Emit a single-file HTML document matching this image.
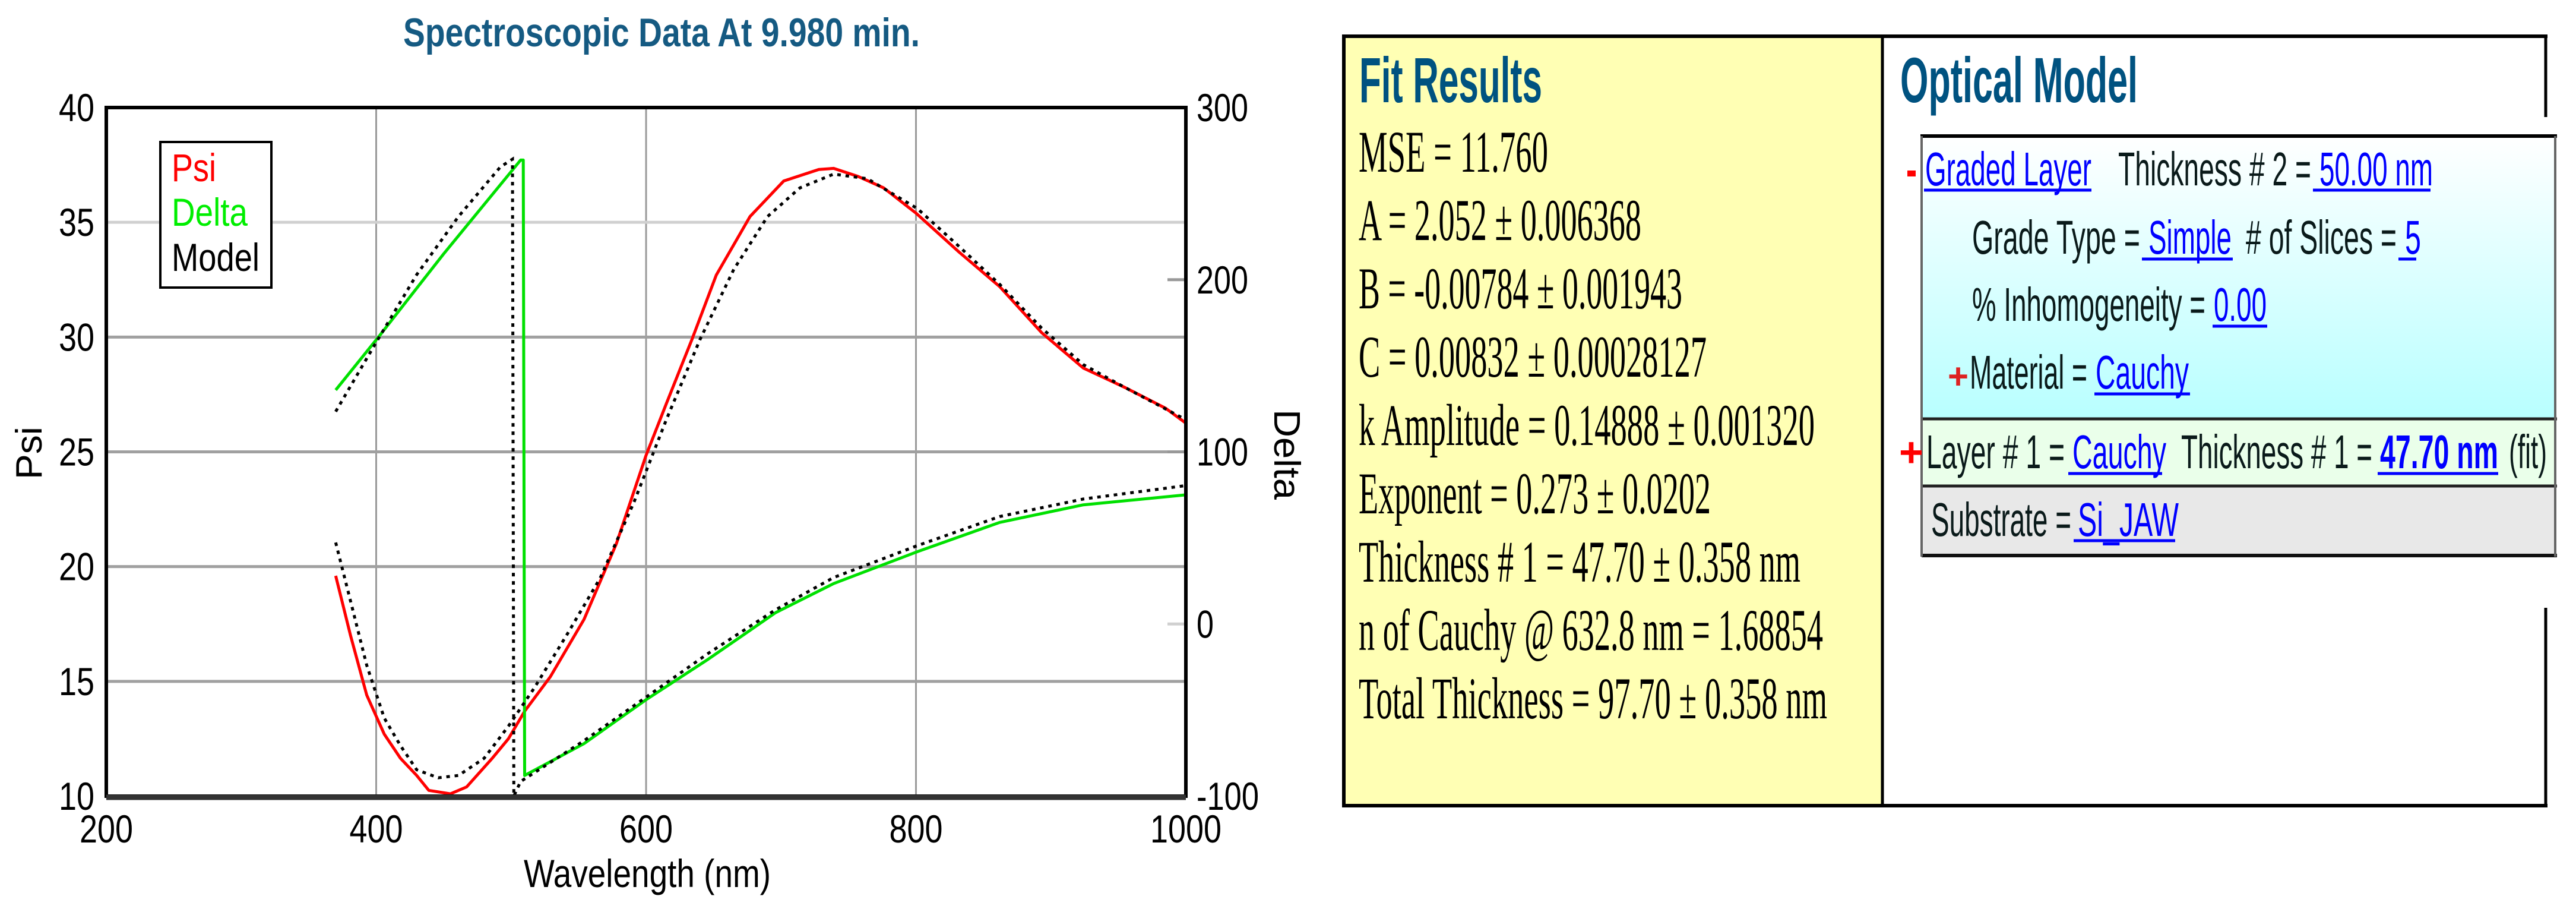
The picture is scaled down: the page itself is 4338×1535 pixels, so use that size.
<!DOCTYPE html>
<html><head><meta charset="utf-8"><style>
html,body{margin:0;padding:0;background:#fff;}
svg{display:block;}
.ax{font-family:"Liberation Sans",Arial,sans-serif;fill:#000;}
.tm{font-family:"Liberation Serif","Times New Roman",serif;font-size:100px;fill:#000;}
.om{font-family:"Liberation Sans",Arial,sans-serif;font-size:80px;fill:#0a1a1a;}
.lk{font-family:"Liberation Sans",Arial,sans-serif;font-size:80px;fill:#0000ff;}
</style></head><body>
<svg id="root" width="4338" height="1535" viewBox="0 0 4338 1535" xmlns="http://www.w3.org/2000/svg">
<defs>
<linearGradient id="cyan" x1="0" y1="0" x2="0" y2="1"><stop offset="0" stop-color="#ffffff"/><stop offset="1" stop-color="#b8ffff"/></linearGradient>
</defs>
<rect width="4338" height="1535" fill="#fff"/>
<g id="chart">
<text x="679" y="78" textLength="870" lengthAdjust="spacingAndGlyphs" class="ax" style="font-size:68px;font-weight:bold;fill:#155a82">Spectroscopic Data At 9.980 min.</text>
<g id="grid"></g>
<g id="series"></g>
<rect x="179" y="181" width="1818" height="1159" fill="none" stroke="#000" stroke-width="6"/>
<line x1="179" y1="1342" x2="1997" y2="1342" stroke="#333" stroke-width="9"/>
<g id="ticks"></g>
<g>
<rect x="270" y="239" width="187" height="245" fill="#fff" stroke="#000" stroke-width="4"/>
<text x="289" y="305" class="ax" style="font-size:66px;fill:#ff0000" textLength="75" lengthAdjust="spacingAndGlyphs">Psi</text>
<text x="289" y="380" class="ax" style="font-size:66px;fill:#00ee00" textLength="128" lengthAdjust="spacingAndGlyphs">Delta</text>
<text x="289" y="456" class="ax" style="font-size:66px" textLength="148" lengthAdjust="spacingAndGlyphs">Model</text>
</g>
<text x="882" y="1493" class="ax" style="font-size:66px" textLength="416" lengthAdjust="spacingAndGlyphs">Wavelength (nm)</text>
<text transform="translate(70,807) rotate(-90)" class="ax" style="font-size:62px" textLength="89" lengthAdjust="spacingAndGlyphs">Psi</text>
<text transform="translate(2146,689) rotate(90)" class="ax" style="font-size:62px" textLength="152" lengthAdjust="spacingAndGlyphs">Delta</text>
</g>

<g>
<rect x="2263" y="64" width="905" height="1291" fill="#ffffb4"/>
<line x1="2263" y1="61" x2="4290" y2="61" stroke="#000" stroke-width="6"/>
<line x1="2263" y1="1356" x2="4290" y2="1356" stroke="#000" stroke-width="6"/>
<line x1="2263" y1="58" x2="2263" y2="1359" stroke="#000" stroke-width="6"/>
<line x1="3170" y1="58" x2="3170" y2="1359" stroke="#000" stroke-width="5"/>
<line x1="4287" y1="58" x2="4287" y2="197" stroke="#000" stroke-width="5"/>
<line x1="4287" y1="1023" x2="4287" y2="1359" stroke="#000" stroke-width="5"/>
<text x="2289" y="172" class="ax" style="font-size:108px;font-weight:bold;fill:#005280" textLength="308" lengthAdjust="spacingAndGlyphs">Fit Results</text>
<text class="tm" x="2288" y="289" textLength="319" lengthAdjust="spacingAndGlyphs">MSE = 11.760</text>
<text class="tm" x="2288" y="404" textLength="476" lengthAdjust="spacingAndGlyphs">A = 2.052 ± 0.006368</text>
<text class="tm" x="2288" y="519" textLength="545" lengthAdjust="spacingAndGlyphs">B = -0.00784 ± 0.001943</text>
<text class="tm" x="2288" y="634" textLength="586" lengthAdjust="spacingAndGlyphs">C = 0.00832 ± 0.00028127</text>
<text class="tm" x="2288" y="749" textLength="768" lengthAdjust="spacingAndGlyphs">k Amplitude = 0.14888 ± 0.001320</text>
<text class="tm" x="2288" y="864" textLength="593" lengthAdjust="spacingAndGlyphs">Exponent = 0.273 ± 0.0202</text>
<text class="tm" x="2288" y="979" textLength="744" lengthAdjust="spacingAndGlyphs">Thickness # 1 = 47.70 ± 0.358 nm</text>
<text class="tm" x="2288" y="1094" textLength="782" lengthAdjust="spacingAndGlyphs">n of Cauchy @ 632.8 nm = 1.68854</text>
<text class="tm" x="2288" y="1209" textLength="789" lengthAdjust="spacingAndGlyphs">Total Thickness = 97.70 ± 0.358 nm</text>
</g>

<g>
<text x="3200" y="172" class="ax" style="font-size:108px;font-weight:bold;fill:#005280" textLength="400" lengthAdjust="spacingAndGlyphs">Optical Model</text>
<rect x="3236" y="229" width="1068" height="476" fill="url(#cyan)"/>
<rect x="3236" y="706" width="1068" height="112" fill="#eaffea"/>
<rect x="3236" y="818" width="1068" height="117" fill="#e8e8e8"/>
<line x1="3234" y1="229" x2="4306" y2="229" stroke="#000" stroke-width="6"/>
<line x1="3236" y1="705" x2="4306" y2="705" stroke="#222" stroke-width="5"/>
<line x1="3236" y1="818" x2="4306" y2="818" stroke="#222" stroke-width="5"/>
<line x1="3236" y1="935" x2="4306" y2="935" stroke="#111" stroke-width="6"/>
<line x1="3236" y1="229" x2="3236" y2="937" stroke="#666" stroke-width="4"/>
<line x1="4303" y1="229" x2="4303" y2="937" stroke="#666" stroke-width="4"/>

<rect x="3212" y="287" width="14" height="10" fill="#ff0000"/>
<text class="lk" x="3242" y="312" textLength="280" lengthAdjust="spacingAndGlyphs">Graded Layer</text>
<line x1="3240" y1="320" x2="3522" y2="320" stroke="#0000ff" stroke-width="5"/>
<text class="om" x="3567" y="312" textLength="325" lengthAdjust="spacingAndGlyphs">Thickness # 2 =</text>
<text class="lk" x="3906" y="312" textLength="191" lengthAdjust="spacingAndGlyphs">50.00 nm</text>
<line x1="3895" y1="320" x2="4093" y2="320" stroke="#0000ff" stroke-width="5"/>

<text class="om" x="3321" y="427" textLength="283" lengthAdjust="spacingAndGlyphs">Grade Type =</text>
<text class="lk" x="3618" y="427" textLength="140" lengthAdjust="spacingAndGlyphs">Simple</text>
<line x1="3607" y1="436" x2="3760" y2="436" stroke="#0000ff" stroke-width="5"/>
<text class="om" x="3782" y="427" textLength="254" lengthAdjust="spacingAndGlyphs"># of Slices =</text>
<text class="lk" x="4050" y="427" textLength="27" lengthAdjust="spacingAndGlyphs">5</text>
<line x1="4039" y1="436" x2="4069" y2="436" stroke="#0000ff" stroke-width="5"/>

<text class="om" x="3321" y="540" textLength="393" lengthAdjust="spacingAndGlyphs">% Inhomogeneity =</text>
<text class="lk" x="3728" y="540" textLength="89" lengthAdjust="spacingAndGlyphs">0.00</text>
<line x1="3726" y1="549" x2="3818" y2="549" stroke="#0000ff" stroke-width="5"/>

<text x="3280" y="654" class="ax" style="font-size:60px;font-weight:bold;fill:#dd2222">+</text>
<text class="om" x="3317" y="654" textLength="198" lengthAdjust="spacingAndGlyphs">Material =</text>
<text class="lk" x="3529" y="654" textLength="157" lengthAdjust="spacingAndGlyphs">Cauchy</text>
<line x1="3527" y1="663" x2="3688" y2="663" stroke="#0000ff" stroke-width="5"/>

<text x="3198" y="785" class="ax" style="font-size:70px;font-weight:bold;fill:#ff0000">+</text>
<text class="om" x="3244" y="788" textLength="233" lengthAdjust="spacingAndGlyphs">Layer # 1 =</text>
<text class="lk" x="3490" y="788" textLength="158" lengthAdjust="spacingAndGlyphs">Cauchy</text>
<line x1="3483" y1="797" x2="3641" y2="797" stroke="#0000ff" stroke-width="5"/>
<text class="om" x="3673" y="788" textLength="322" lengthAdjust="spacingAndGlyphs">Thickness # 1 =</text>
<text class="lk" x="4008" y="788" style="font-weight:bold" textLength="199" lengthAdjust="spacingAndGlyphs">47.70 nm</text>
<line x1="4004" y1="797" x2="4207" y2="797" stroke="#0000ff" stroke-width="5"/>
<text class="om" x="4225" y="788" textLength="64" lengthAdjust="spacingAndGlyphs">(fit)</text>

<text class="om" x="3252" y="902" textLength="236" lengthAdjust="spacingAndGlyphs">Substrate =</text>
<text class="lk" x="3499" y="902" textLength="170" lengthAdjust="spacingAndGlyphs">Si_JAW</text>
<line x1="3492" y1="910" x2="3663" y2="910" stroke="#0000ff" stroke-width="5"/>
</g>
</svg>
<script>
const xTicks = [200, 400, 600, 800, 1000];
const psiTicks = [10, 15, 20, 25, 30, 35, 40];
const deltaTicks = [-100, 0, 100, 200, 300];
const psiWl = [370,381,393,406,418,430,439,455,467,486,498,510,529,554,578,600,615,634,652,677,702,728,739,757,776,800,832,862,893,924,955,985,1000];
const psiVal = [19.6,17.0,14.4,12.7,11.65,10.9,10.25,10.1,10.4,11.65,12.5,13.7,15.2,17.7,21.0,24.85,27.1,29.9,32.7,35.25,36.8,37.3,37.35,37.0,36.5,35.4,33.7,32.2,30.2,28.65,27.8,26.9,26.25];
const modelPsiWl = [370,381,393,406,418,430,446,461,480,498,517,541,566,591,615,640,665,690,714,739,764,801,831,862,893,924,955,1000];
const modelPsiVal = [21.05,18.5,15.7,13.4,12.2,11.15,10.8,10.9,11.65,13.05,14.7,17.0,19.5,22.8,26.4,29.9,32.95,35.25,36.5,37.1,36.9,35.6,34.0,32.3,30.4,28.8,27.8,26.4];
const deltaWl = [370,402,450,507,509,510,554,600,646,696,739,801,862,924,1000];
const deltaVal = [135.9,167,215,269.5,269.5,-88,-69.5,-44,-20.5,6.6,23.5,42,59,69.2,75];
const modelDeltaWl = [370,399,430,461,492,501,502,507,554,600,646,696,739,801,862,924,1000];
const modelDeltaVal = [123.4,162.3,202.9,236.7,265.5,270,-100,-91.5,-67.8,-42.5,-17.1,8.3,27,45.5,62.4,72.6,80.4];

const NS = 'http://www.w3.org/2000/svg';
const L = 179, R = 1997, T = 181, B = 1340;
function xs(w){ return L + (w - 200) / 800 * (R - L); }
function yPsi(v){ return B - (v - 10) / 30 * (B - T); }
function yDelta(v){ return B - (v + 100) / 400 * (B - T); }
function mk(tag, attrs){ const e = document.createElementNS(NS, tag); for (const k in attrs) e.setAttribute(k, attrs[k]); return e; }

const grid = document.getElementById('grid');
xTicks.slice(1, -1).forEach(w => {
  const ln = mk('line', {x1: xs(w), x2: xs(w), y1: T, y2: B, stroke: '#9a9a9a', 'stroke-width': 3});
  
  
  grid.appendChild(ln);
});
psiTicks.slice(1, -1).forEach(v => {
  const ln = mk('line', {x1: L, x2: R, y1: yPsi(v), y2: yPsi(v), stroke: v === 35 ? '#d0d0d0' : '#a0a0a0', 'stroke-width': 5});
  
  
  grid.appendChild(ln);
});
deltaTicks.slice(1, -1).forEach(v => {
  const ln = mk('line', {x1: R - 31, x2: R, y1: yDelta(v), y2: yDelta(v), stroke: v === 0 ? '#d0d0d0' : '#999', 'stroke-width': 5});
  
  
  grid.appendChild(ln);
});

const ticks = document.getElementById('ticks');
function addText(txt, x, y, anchor, len, name){
  const t = mk('text', {x: x, y: y, 'text-anchor': anchor, 'class': 'ax', style: 'font-size:66px', textLength: len, lengthAdjust: 'spacingAndGlyphs'});
  t.textContent = txt;
  
  
  ticks.appendChild(t);
}
xTicks.forEach(w => { const s = String(w); addText(s, xs(w), 1418, 'middle', s.length * 30, 'x-tick-label'); });
psiTicks.forEach(v => { const s = String(v); addText(s, 159, yPsi(v) + 23, 'end', s.length * 30, 'psi-tick-label'); });
deltaTicks.forEach(v => { const s = String(v); addText(s, 2015, yDelta(v) + 23, 'start', s.length === 4 ? 105 : s.length * 29, 'delta-tick-label'); });

const series = document.getElementById('series');
function pathD(xsArr, ysArr, yf){ return xsArr.map((w, i) => (i ? 'L' : 'M') + xs(w).toFixed(1) + ' ' + yf(ysArr[i]).toFixed(1)).join(' '); }
const pPsi = mk('path', {d: pathD(psiWl, psiVal, yPsi), fill: 'none', stroke: '#ff0000', 'stroke-width': 5, 'stroke-linejoin': 'round'});


series.appendChild(pPsi);
const pDelta = mk('path', {d: pathD(deltaWl, deltaVal, yDelta), fill: 'none', stroke: '#00e000', 'stroke-width': 5, 'stroke-linejoin': 'round'});


series.appendChild(pDelta);
const pMP = mk('path', {d: pathD(modelPsiWl, modelPsiVal, yPsi), fill: 'none', stroke: '#000', 'stroke-width': 5, 'stroke-dasharray': '6 8'});


series.appendChild(pMP);
const pMD = mk('path', {d: pathD(modelDeltaWl, modelDeltaVal, yDelta), fill: 'none', stroke: '#000', 'stroke-width': 5, 'stroke-dasharray': '6 8'});


series.appendChild(pMD);
</script>
</body></html>
